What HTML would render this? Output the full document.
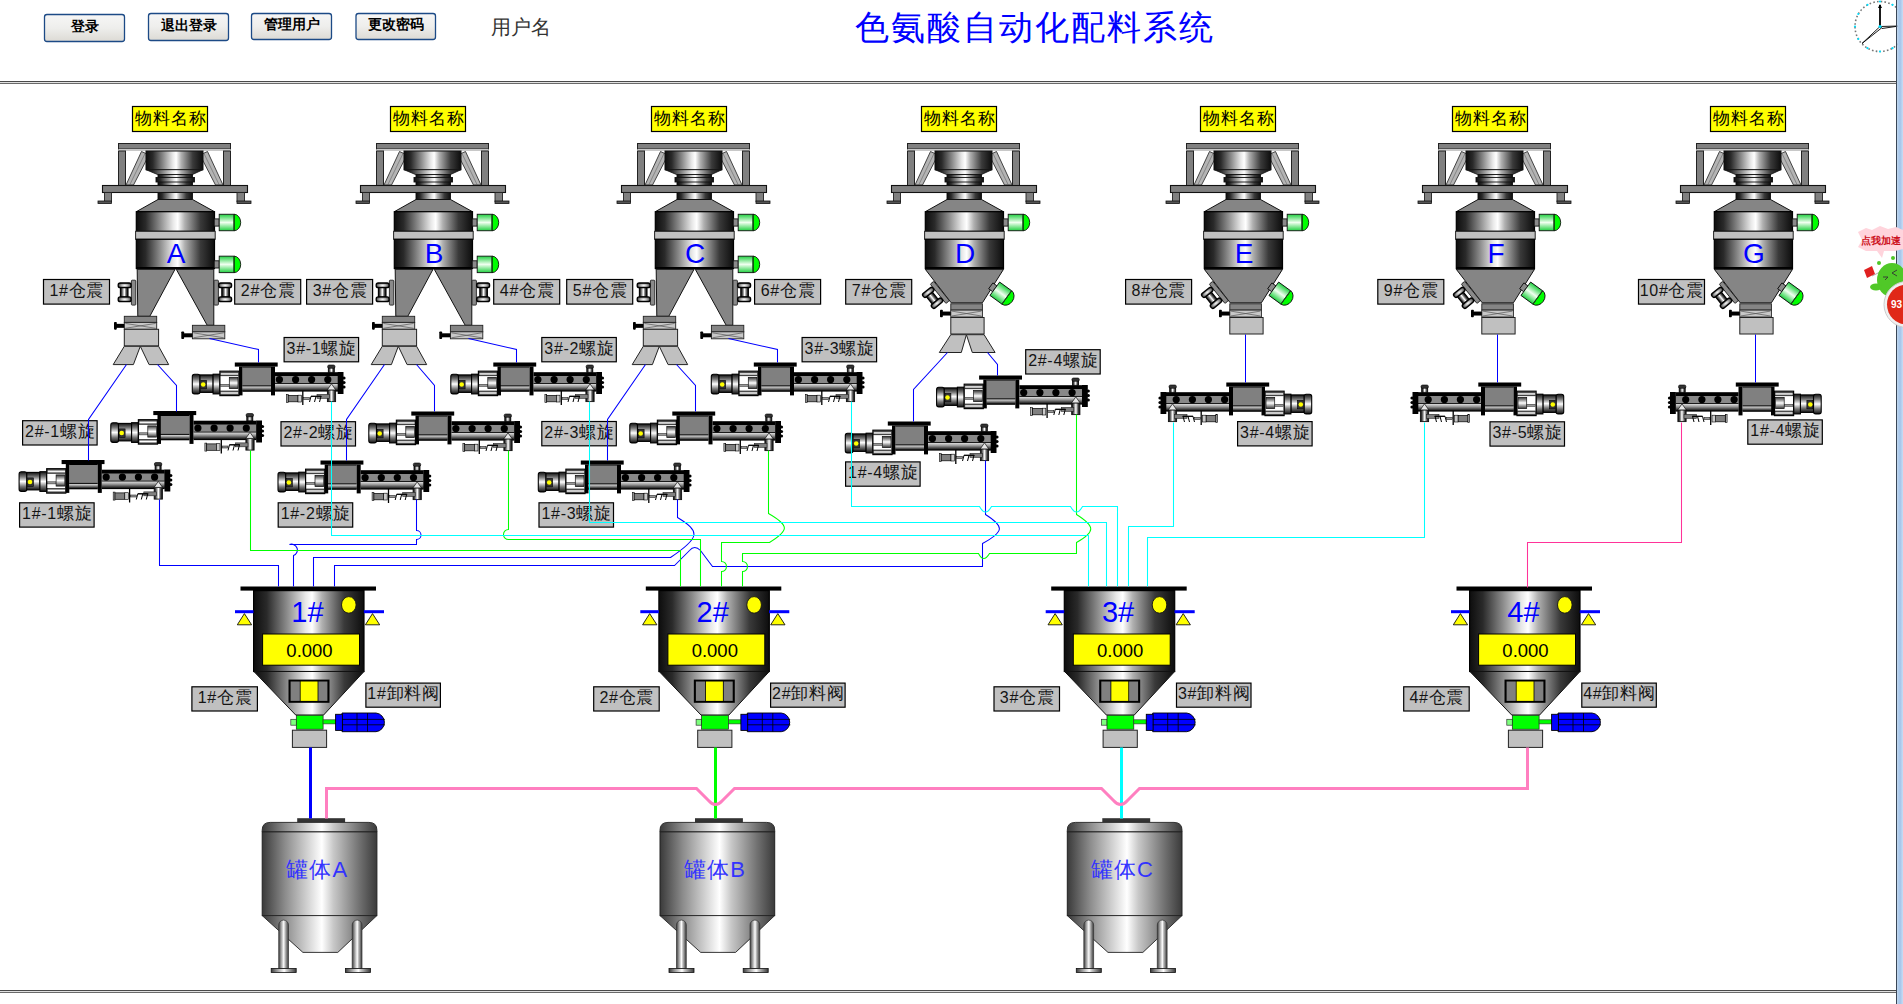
<!DOCTYPE html><html><head><meta charset="utf-8"><style>
html,body{margin:0;padding:0;background:#fff;width:1903px;height:1004px;overflow:hidden}
svg{position:absolute;left:0;top:0;font-family:"Liberation Sans", sans-serif}
</style></head><body>
<svg width="1903" height="1004" viewBox="0 0 1903 1004">
<defs>
<linearGradient id="met" x1="0" x2="1" y1="0" y2="0">
 <stop offset="0" stop-color="#0d0d0d"/><stop offset="0.12" stop-color="#2a2a2a"/>
 <stop offset="0.3" stop-color="#8a8a8a"/><stop offset="0.47" stop-color="#e8e8e8"/>
 <stop offset="0.53" stop-color="#ffffff"/><stop offset="0.62" stop-color="#b0b0b0"/>
 <stop offset="0.82" stop-color="#3a3a3a"/><stop offset="1" stop-color="#0d0d0d"/>
</linearGradient>
<linearGradient id="metL" x1="0" x2="1" y1="0" y2="0">
 <stop offset="0" stop-color="#3a3a3a"/><stop offset="0.2" stop-color="#8c8c8c"/>
 <stop offset="0.45" stop-color="#e6e6e6"/><stop offset="0.52" stop-color="#ffffff"/>
 <stop offset="0.62" stop-color="#c8c8c8"/><stop offset="0.85" stop-color="#707070"/>
 <stop offset="1" stop-color="#3a3a3a"/>
</linearGradient>
<linearGradient id="metV" x1="0" x2="0" y1="0" y2="1">
 <stop offset="0" stop-color="#111"/><stop offset="0.25" stop-color="#777"/>
 <stop offset="0.5" stop-color="#fff"/><stop offset="0.75" stop-color="#777"/>
 <stop offset="1" stop-color="#111"/>
</linearGradient>
<linearGradient id="metV2" x1="0" x2="0" y1="0" y2="1">
 <stop offset="0" stop-color="#333"/><stop offset="0.5" stop-color="#fff"/>
 <stop offset="1" stop-color="#333"/>
</linearGradient>
<radialGradient id="rad" cx="0.5" cy="0.5" r="0.6">
 <stop offset="0" stop-color="#fff"/><stop offset="0.45" stop-color="#aaa"/><stop offset="1" stop-color="#1a1a1a"/>
</radialGradient>
<linearGradient id="greenV" x1="0" x2="0" y1="0" y2="1">
 <stop offset="0" stop-color="#20d040"/><stop offset="0.5" stop-color="#f0fff0"/>
 <stop offset="1" stop-color="#20d040"/>
</linearGradient>
<linearGradient id="tubeV" x1="0" x2="0" y1="0" y2="1">
 <stop offset="0" stop-color="#ddd"/><stop offset="0.4" stop-color="#999"/>
 <stop offset="1" stop-color="#111"/>
</linearGradient>
<g id="ind">
 <rect x="-0.3" y="-3.6" width="5" height="7.2" fill="#8a8a8a" stroke="#111" stroke-width="0.9"/>
 <path d="M19.5,-8.25 A6.7,8.25 0 0 1 19.5,8.25 Z" fill="#00ff00" stroke="#111" stroke-width="0.9"/>
 <rect x="4.7" y="-8.25" width="14.8" height="16.5" fill="url(#greenV)" stroke="#111" stroke-width="0.9"/>
	<line x1="19.3" y1="-8" x2="19.3" y2="8" stroke="#1a5a1a" stroke-width="0.8"/>
</g><g id="vib">
 <rect x="-4.4" y="-12.4" width="4.4" height="24.9" rx="0.8" fill="#8a8a8a" stroke="#222" stroke-width="0.9"/>
 <rect x="-6" y="-8.6" width="2" height="2.6" fill="#555"/>
 <rect x="-6" y="5.4" width="2" height="2.6" fill="#555"/>
 <rect x="-15.4" y="-5.2" width="7.6" height="9.6" fill="url(#met)" stroke="#000" stroke-width="1.1"/>
 <rect x="-17.6" y="-9.6" width="12.9" height="4.7" rx="2" fill="url(#rad)" stroke="#000" stroke-width="1.3"/>
 <rect x="-17.6" y="4.3" width="12.9" height="4.8" rx="2" fill="url(#rad)" stroke="#000" stroke-width="1.3"/>
</g><g id="htop"><rect x="132.50" y="106.50" width="75.00" height="25.00" fill="#ffff00" stroke="#000" stroke-width="1.2" /><text x="170.5" y="123.6" font-size="16.5" text-anchor="middle" fill="#000" letter-spacing="1">物料名称</text><rect x="118.50" y="143.50" width="112.00" height="5.50" fill="#808080" stroke="#222" stroke-width="1" /><rect x="119.00" y="149.00" width="111.00" height="2.00" fill="#c8c8c8" /><rect x="118.50" y="151.00" width="7.00" height="34.50" fill="#808080" stroke="#222" stroke-width="1" /><rect x="223.50" y="151.00" width="7.00" height="34.50" fill="#808080" stroke="#222" stroke-width="1" /><polygon points="126.00,185.00 133.50,185.00 149.00,155.00 141.50,151.50" fill="#b4b4b4" stroke="#333" stroke-width="0.9" /><line x1="129.7" y1="185" x2="145.2" y2="153.2" stroke="#666" stroke-width="0.6"/><polygon points="223.00,185.00 215.50,185.00 200.00,155.00 207.50,151.50" fill="#b4b4b4" stroke="#333" stroke-width="0.9" /><line x1="219.3" y1="185" x2="203.8" y2="153.2" stroke="#666" stroke-width="0.6"/><rect x="146.00" y="151.00" width="57.00" height="18.70" fill="url(#met)" stroke="#111" stroke-width="1" /><polygon points="146.00,169.70 203.00,169.70 192.50,174.50 157.50,174.50" fill="url(#met)" stroke="#111" stroke-width="0.8" /><rect x="158.00" y="174.50" width="34.50" height="11.00" fill="url(#met)" stroke="#111" stroke-width="0.9" /><rect x="156.00" y="177.50" width="38.50" height="4.50" fill="url(#met)" stroke="#111" stroke-width="0.9" /><rect x="102.50" y="185.50" width="145.00" height="7.00" fill="#808080" stroke="#111" stroke-width="1.1" /><rect x="104.50" y="192.50" width="7.00" height="9.00" fill="#808080" stroke="#222" stroke-width="0.9" /><rect x="98.00" y="201.00" width="13.50" height="2.50" fill="#555" stroke="#111" stroke-width="0.8" /><rect x="237.00" y="192.50" width="7.50" height="9.00" fill="#808080" stroke="#222" stroke-width="0.9" /><rect x="237.00" y="201.00" width="14.00" height="2.50" fill="#555" stroke="#111" stroke-width="0.8" /><rect x="158.00" y="192.50" width="34.50" height="7.00" fill="url(#met)" stroke="#111" stroke-width="0.9" /><polygon points="158.00,199.50 192.50,199.50 214.50,211.70 136.30,211.70" fill="#858585" stroke="#111" stroke-width="1" /><rect x="136.30" y="211.70" width="78.20" height="19.60" fill="url(#met)" stroke="#000" stroke-width="1.2" /><rect x="135.60" y="231.30" width="79.60" height="8.00" fill="#c0c0c0" stroke="#222" stroke-width="1" /><rect x="136.30" y="239.30" width="78.20" height="29.20" fill="url(#met)" stroke="#000" stroke-width="1.2" /><rect x="136.30" y="267.00" width="78.20" height="2.30" fill="#000" /><use href="#ind" transform="translate(214.5,222.5)"/></g><g id="hlow1"><use href="#ind" transform="translate(214.5,264.4)"/><polygon points="137.20,269.30 175.00,269.30 149.80,316.30 137.80,316.30" fill="#858585" stroke="#111" stroke-width="1" /><polygon points="176.30,269.30 213.80,269.30 213.80,325.30 207.20,325.30" fill="#858585" stroke="#111" stroke-width="1" /><use href="#vib" transform="translate(135.8,292.6)"/><use href="#vib" transform="translate(214,292.6) scale(-1,1)"/><rect x="124.30" y="316.30" width="32.40" height="6.10" fill="#858585" stroke="#222" stroke-width="0.9" /><rect x="124.30" y="322.40" width="32.40" height="6.90" fill="#c8c8c8" stroke="#222" stroke-width="0.9" /><path d="M125.3,323.4 L155.7,328.3 M125.3,328.3 L155.7,323.4" stroke="#555" stroke-width="0.7" fill="none"/><rect x="116.00" y="323.85" width="8.30" height="4.00" fill="#000" /><rect x="114.00" y="322.05" width="2.80" height="7.60" fill="#000" rx="0.8"/><rect x="124.30" y="329.30" width="34.30" height="16.60" fill="#c0c0c0" stroke="#222" stroke-width="1" /><polygon points="124.30,346.30 140.30,346.30 133.40,364.60 113.20,364.60" fill="#c0c0c0" stroke="#222" stroke-width="1" /><polygon points="140.30,346.30 158.60,346.30 168.70,364.60 149.10,364.60" fill="#c0c0c0" stroke="#222" stroke-width="1" /><rect x="192.40" y="325.30" width="32.40" height="6.50" fill="#858585" stroke="#222" stroke-width="0.9" /><rect x="192.40" y="331.80" width="32.40" height="7.00" fill="#c8c8c8" stroke="#222" stroke-width="0.9" /><path d="M193.4,332.8 L223.8,337.8 M193.4,337.8 L223.8,332.8" stroke="#555" stroke-width="0.7" fill="none"/><rect x="183.30" y="333.30" width="9.10" height="4.00" fill="#000" /><rect x="181.30" y="331.50" width="2.80" height="7.60" fill="#000" rx="0.8"/></g><g id="hlow2"><polygon points="136.30,269.30 214.50,269.30 193.40,302.80 162.20,302.80" fill="#858585" stroke="#111" stroke-width="1" /><use href="#vib" transform="translate(152.5,291) rotate(-39)"/><use href="#ind" transform="translate(202,286) rotate(36)"/><rect x="161.80" y="303.80" width="31.60" height="6.30" fill="#858585" stroke="#222" stroke-width="0.9" /><rect x="161.80" y="310.10" width="31.60" height="6.90" fill="#c8c8c8" stroke="#222" stroke-width="0.9" /><path d="M162.8,311.1 L192.4,316 M162.8,316 L192.4,311.1" stroke="#555" stroke-width="0.7" fill="none"/><rect x="153.00" y="311.55" width="8.80" height="4.00" fill="#000" /><rect x="151.00" y="309.75" width="2.80" height="7.60" fill="#000" rx="0.8"/><rect x="161.80" y="317.50" width="33.30" height="16.50" fill="#c0c0c0" stroke="#222" stroke-width="1" /></g><g id="chute2"><polygon points="161.80,334.70 177.40,334.70 172.30,352.50 150.30,352.50" fill="#c0c0c0" stroke="#222" stroke-width="1" /><polygon points="177.40,334.70 195.10,334.70 206.10,352.50 183.30,352.50" fill="#c0c0c0" stroke="#222" stroke-width="1" /></g><g id="conv"><rect x="0.30" y="12.20" width="7.70" height="19.70" fill="url(#metV)" stroke="#000" stroke-width="1.1" rx="2.2"/><rect x="8.00" y="12.90" width="13.10" height="17.50" fill="url(#metV)" stroke="#000" stroke-width="1.1" /><rect x="8.80" y="18.40" width="5.80" height="8.50" fill="#333" stroke="#000" stroke-width="0.6" /><circle cx="11.2" cy="22.5" r="2.3" fill="#ffff00"/><rect x="21.10" y="12.20" width="6.80" height="19.70" fill="url(#metV)" stroke="#000" stroke-width="1.1" /><rect x="27.90" y="9.20" width="19.10" height="24.40" fill="#ffffff" stroke="#000" stroke-width="1.2" /><rect x="28.50" y="10.00" width="18.00" height="3.80" fill="url(#metV2)" stroke="#111" stroke-width="0.6" /><rect x="28.50" y="29.00" width="18.00" height="4.00" fill="url(#metV2)" stroke="#111" stroke-width="0.6" /><rect x="28.50" y="22.30" width="8.80" height="2.10" fill="#999" stroke="#222" stroke-width="0.5" /><rect x="37.30" y="15.40" width="8.70" height="11.20" fill="url(#metV2)" stroke="#111" stroke-width="0.7" /><rect x="42.80" y="0.50" width="42.90" height="4.10" fill="#000" /><rect x="47.00" y="4.50" width="3.50" height="28.90" fill="#000" /><rect x="79.00" y="4.50" width="4.00" height="28.90" fill="#000" /><rect x="50.30" y="4.50" width="28.70" height="25.30" fill="#000" /><rect x="50.30" y="5.50" width="28.70" height="17.90" fill="#808080" /><rect x="50.30" y="24.40" width="28.70" height="4.40" fill="url(#tubeV)" /><rect x="83.00" y="10.20" width="63.00" height="19.40" fill="#000" /><rect x="83.00" y="14.00" width="63.00" height="7.20" fill="#888" /><circle cx="87.4" cy="17.6" r="3.6" fill="#000"/><circle cx="103.6" cy="17.6" r="3.6" fill="#000"/><circle cx="119.6" cy="17.6" r="3.6" fill="#000"/><circle cx="135.8" cy="17.6" r="3.6" fill="#000"/><rect x="83.00" y="22.00" width="63.00" height="6.60" fill="url(#tubeV)" /><rect x="145.70" y="10.00" width="5.80" height="22.00" fill="#000" /><circle cx="152" cy="16" r="1.6" fill="#000"/><circle cx="152" cy="20.5" r="1.6" fill="#000"/><circle cx="152" cy="25" r="1.6" fill="#000"/><rect x="136.30" y="5.50" width="6.00" height="4.80" fill="url(#met)" stroke="#000" stroke-width="0.8" /><rect x="135.60" y="3.00" width="7.40" height="3.30" fill="#333" stroke="#000" stroke-width="0.6" rx="1.5"/><rect x="135.40" y="27.90" width="8.20" height="11.70" fill="url(#met)" stroke="#111" stroke-width="0.9" /><polygon points="139.50,21.80 135.30,27.90 143.70,27.90" fill="#e6e6e6" stroke="#111" stroke-width="0.7" /><rect x="125.00" y="32.40" width="12.50" height="3.90" fill="#808080" stroke="#222" stroke-width="0.6" /><rect x="94.40" y="32.60" width="1.80" height="8.00" fill="#bbb" stroke="#000" stroke-width="0.6" /><rect x="96.20" y="33.40" width="9.80" height="6.40" fill="#808080" stroke="#000" stroke-width="0.7" /><rect x="106.00" y="33.20" width="3.50" height="6.80" fill="#ccc" stroke="#000" stroke-width="0.6" /><line x1="110.8" y1="28.9" x2="110.8" y2="43" stroke="#000" stroke-width="1.3"/><rect x="111.50" y="35.50" width="6.00" height="2.00" fill="#999" stroke="#000" stroke-width="0.5" /><path d="M117.5,40 L119,34.3 L124,34.3 L122.5,40 M124,34.3 L129,34.3 L127.5,40 M119,34.3 L129.5,34.3" stroke="#000" stroke-width="1" fill="none"/></g><g id="wtank"><rect x="240.50" y="586.50" width="135.50" height="4.10" fill="#000" /><rect x="253.60" y="590.60" width="110.40" height="80.90" fill="url(#met)" stroke="#000" stroke-width="1.2" /><rect x="254.00" y="664.50" width="109.60" height="6.00" fill="url(#met)" /><rect x="262.60" y="634.00" width="96.90" height="31.20" fill="#ffff00" stroke="#000" stroke-width="1" /><text x="309.5" y="656.6" font-size="18.5" text-anchor="middle" fill="#000">0.000</text><ellipse cx="348.8" cy="604.9" rx="7.3" ry="8.3" fill="#ffff00" stroke="#111" stroke-width="0.9"/><rect x="235.00" y="610.20" width="18.50" height="3.00" fill="#0000ff" /><rect x="363.80" y="610.20" width="20.20" height="3.00" fill="#0000ff" /><polygon points="244.40,613.60 237.30,624.80 251.60,624.80" fill="#ffff00" stroke="#111" stroke-width="0.9" /><polygon points="372.50,613.60 365.40,624.80 379.70,624.80" fill="#ffff00" stroke="#111" stroke-width="0.9" /><polygon points="253.90,671.50 364.00,671.50 323.60,715.00 295.70,715.00" fill="url(#met)" stroke="#111" stroke-width="1" /><rect x="288.50" y="679.60" width="41.00" height="23.20" fill="#000" /><rect x="290.60" y="681.50" width="9.20" height="19.40" fill="#808080" /><rect x="318.40" y="681.50" width="9.00" height="19.40" fill="#808080" /><rect x="300.60" y="681.50" width="17.00" height="19.40" fill="#ffff00" /><rect x="290.80" y="719.30" width="5.60" height="5.90" fill="#7dff7d" stroke="#333" stroke-width="0.7" /><rect x="296.30" y="715.30" width="26.80" height="13.90" fill="#00ff00" stroke="#222" stroke-width="0.7" /><rect x="323.10" y="719.80" width="12.90" height="4.10" fill="#00ff00" stroke="#333" stroke-width="0.6" /><path d="M342,713 H376 A9.4,9.4 0 0 1 376,731.7 H342 Z" fill="#0000ff" stroke="#000" stroke-width="0.9"/><rect x="335.60" y="714.30" width="6.80" height="16.10" fill="#0000ff" stroke="#000" stroke-width="0.9" /><path d="M357,713 V731.7 M367.5,713 V731.7 M342,719.4 H384.8 M342,724.8 H385" stroke="#000" stroke-width="0.8" fill="none"/><rect x="292.40" y="730.20" width="34.20" height="17.20" fill="#c0c0c0" stroke="#222" stroke-width="1" /></g><g id="stank"><rect x="297.20" y="818.20" width="47.90" height="4.40" fill="#333" /><path d="M262.2,831.9 V830 Q262.2,822.4 270.2,822.4 H368.9 Q376.9,822.4 376.9,830 V831.9 Z" fill="url(#metL)" stroke="#222" stroke-width="0.9"/><rect x="262.20" y="831.90" width="114.70" height="83.70" fill="url(#metL)" stroke="#222" stroke-width="1" /><polygon points="262.20,915.60 376.90,915.60 337.80,952.40 302.90,952.40" fill="url(#metL)" stroke="#222" stroke-width="0.9" /><path d="M278.7,968.5 V925 A4.9,4.9 0 0 1 288.5,925 V968.5 Z" fill="url(#metL)" stroke="#333" stroke-width="0.7"/><rect x="271.20" y="968.50" width="25.00" height="4.00" fill="url(#metL)" stroke="#111" stroke-width="0.8" /><path d="M352.2,968.5 V925 A4.9,4.9 0 0 1 362.0,925 V968.5 Z" fill="url(#metL)" stroke="#333" stroke-width="0.7"/><rect x="345.40" y="968.50" width="25.00" height="4.00" fill="url(#metL)" stroke="#111" stroke-width="0.8" /></g>
<linearGradient id="btn" x1="0" x2="0" y1="0" y2="1">
 <stop offset="0" stop-color="#f6f6f6"/><stop offset="0.5" stop-color="#eeeeec"/>
 <stop offset="1" stop-color="#dcdad4"/>
</linearGradient>
<linearGradient id="winb" x1="0" x2="1" y1="0" y2="0">
 <stop offset="0" stop-color="#b8d4f0"/><stop offset="0.5" stop-color="#a4c4ea"/><stop offset="1" stop-color="#c8dcf4"/>
</linearGradient>
</defs>
<rect x="44.5" y="14.5" width="80" height="27" rx="2.5" fill="url(#btn)" stroke="#1c4a86" stroke-width="1.3"/>
<text x="84.5" y="30.6" font-size="14" font-weight="bold" text-anchor="middle" fill="#000">登录</text>
<rect x="148.5" y="13.5" width="80" height="27" rx="2.5" fill="url(#btn)" stroke="#1c4a86" stroke-width="1.3"/>
<text x="188.5" y="29.6" font-size="14" font-weight="bold" text-anchor="middle" fill="#000">退出登录</text>
<rect x="251.5" y="13.5" width="80" height="26" rx="2.5" fill="url(#btn)" stroke="#1c4a86" stroke-width="1.3"/>
<text x="291.5" y="29.1" font-size="14" font-weight="bold" text-anchor="middle" fill="#000">管理用户</text>
<rect x="356.0" y="13.5" width="79.5" height="26" rx="2.5" fill="url(#btn)" stroke="#1c4a86" stroke-width="1.3"/>
<text x="395.8" y="29.1" font-size="14" font-weight="bold" text-anchor="middle" fill="#000">更改密码</text>
<text x="491" y="33.5" font-size="20" fill="#333">用户名</text>
<text x="1034.5" y="38.8" font-size="33.5" text-anchor="middle" fill="#0000ff" letter-spacing="2">色氨酸自动化配料系统</text>
<rect x="0.00" y="81.00" width="1896.00" height="1.00" fill="#4a4a4a" />
<rect x="0.00" y="82.00" width="1896.00" height="1.00" fill="#e0e0e0" />
<rect x="0.00" y="83.00" width="1896.00" height="1.00" fill="#6a6a6a" />
<rect x="0.00" y="990.00" width="1896.00" height="1.00" fill="#4a4a4a" />
<rect x="0.00" y="991.00" width="1896.00" height="1.00" fill="#e0e0e0" />
<rect x="0.00" y="992.00" width="1896.00" height="1.00" fill="#6a6a6a" />
<circle cx="1880" cy="26.5" r="25" fill="none" stroke="#777" stroke-width="1.6" stroke-dasharray="1.6 2.2"/>
<circle cx="1880.0" cy="1.5" r="1.1" fill="#00e0ff"/>
<circle cx="1892.5" cy="4.8" r="1.1" fill="#00e0ff"/>
<circle cx="1901.7" cy="14.0" r="1.1" fill="#00e0ff"/>
<circle cx="1905.0" cy="26.5" r="1.1" fill="#00e0ff"/>
<circle cx="1901.7" cy="39.0" r="1.1" fill="#00e0ff"/>
<circle cx="1892.5" cy="48.2" r="1.1" fill="#00e0ff"/>
<circle cx="1880.0" cy="51.5" r="1.1" fill="#00e0ff"/>
<circle cx="1867.5" cy="48.2" r="1.1" fill="#00e0ff"/>
<circle cx="1858.3" cy="39.0" r="1.1" fill="#00e0ff"/>
<circle cx="1855.0" cy="26.5" r="1.1" fill="#00e0ff"/>
<circle cx="1858.3" cy="14.0" r="1.1" fill="#00e0ff"/>
<circle cx="1867.5" cy="4.8" r="1.1" fill="#00e0ff"/>
<path d="M1880,26.5 V5" stroke="#000" stroke-width="1.8"/><path d="M1878,8 L1880,4 L1882,8 Z" fill="#000"/>
<path d="M1880,26.5 L1862,43.5 L1881.5,28 Z" fill="none" stroke="#000" stroke-width="0.9"/>
<path d="M1880,26.5 L1899,26 L1882,28.5 Z" fill="none" stroke="#000" stroke-width="0.9"/>
<circle cx="1880" cy="26.5" r="1.6" fill="#00e0ff"/>
<use href="#htop" transform="translate(0,0)"/>
<use href="#hlow1" transform="translate(0,0)"/>
<text x="176" y="263" font-size="28" text-anchor="middle" fill="#0000ff">A</text>
<use href="#htop" transform="translate(258,0)"/>
<use href="#hlow1" transform="translate(258,0)"/>
<text x="434" y="263" font-size="28" text-anchor="middle" fill="#0000ff">B</text>
<use href="#htop" transform="translate(519,0)"/>
<use href="#hlow1" transform="translate(519,0)"/>
<text x="695" y="263" font-size="28" text-anchor="middle" fill="#0000ff">C</text>
<use href="#htop" transform="translate(789,0)"/>
<use href="#hlow2" transform="translate(789,0)"/>
<use href="#chute2" transform="translate(789,0)"/>
<text x="965" y="263" font-size="28" text-anchor="middle" fill="#0000ff">D</text>
<use href="#htop" transform="translate(1068,0)"/>
<use href="#hlow2" transform="translate(1068,0)"/>
<text x="1244" y="263" font-size="28" text-anchor="middle" fill="#0000ff">E</text>
<use href="#htop" transform="translate(1320,0)"/>
<use href="#hlow2" transform="translate(1320,0)"/>
<text x="1496" y="263" font-size="28" text-anchor="middle" fill="#0000ff">F</text>
<use href="#htop" transform="translate(1578,0)"/>
<use href="#hlow2" transform="translate(1578,0)"/>
<text x="1754" y="263" font-size="28" text-anchor="middle" fill="#0000ff">G</text>
<rect x="43.50" y="279.50" width="66.00" height="24.60" fill="#c0c0c0" stroke="#000" stroke-width="1.2" /><text x="76.8" y="296.0" text-anchor="middle" fill="#141414" letter-spacing="0.7"><tspan font-size="16">1#</tspan><tspan font-size="17">仓震</tspan></text>
<rect x="234.70" y="279.50" width="66.00" height="24.60" fill="#c0c0c0" stroke="#000" stroke-width="1.2" /><text x="268.1" y="296.0" text-anchor="middle" fill="#141414" letter-spacing="0.7"><tspan font-size="16">2#</tspan><tspan font-size="17">仓震</tspan></text>
<rect x="306.60" y="279.50" width="66.00" height="24.60" fill="#c0c0c0" stroke="#000" stroke-width="1.2" /><text x="340.0" y="296.0" text-anchor="middle" fill="#141414" letter-spacing="0.7"><tspan font-size="16">3#</tspan><tspan font-size="17">仓震</tspan></text>
<rect x="493.70" y="279.50" width="66.00" height="24.60" fill="#c0c0c0" stroke="#000" stroke-width="1.2" /><text x="527.1" y="296.0" text-anchor="middle" fill="#141414" letter-spacing="0.7"><tspan font-size="16">4#</tspan><tspan font-size="17">仓震</tspan></text>
<rect x="566.70" y="279.50" width="66.00" height="24.60" fill="#c0c0c0" stroke="#000" stroke-width="1.2" /><text x="600.1" y="296.0" text-anchor="middle" fill="#141414" letter-spacing="0.7"><tspan font-size="16">5#</tspan><tspan font-size="17">仓震</tspan></text>
<rect x="754.60" y="279.50" width="66.00" height="24.60" fill="#c0c0c0" stroke="#000" stroke-width="1.2" /><text x="788.0" y="296.0" text-anchor="middle" fill="#141414" letter-spacing="0.7"><tspan font-size="16">6#</tspan><tspan font-size="17">仓震</tspan></text>
<rect x="845.70" y="279.50" width="66.00" height="24.60" fill="#c0c0c0" stroke="#000" stroke-width="1.2" /><text x="879.1" y="296.0" text-anchor="middle" fill="#141414" letter-spacing="0.7"><tspan font-size="16">7#</tspan><tspan font-size="17">仓震</tspan></text>
<rect x="1125.60" y="279.50" width="66.00" height="24.60" fill="#c0c0c0" stroke="#000" stroke-width="1.2" /><text x="1158.9" y="296.0" text-anchor="middle" fill="#141414" letter-spacing="0.7"><tspan font-size="16">8#</tspan><tspan font-size="17">仓震</tspan></text>
<rect x="1377.80" y="279.50" width="66.00" height="24.60" fill="#c0c0c0" stroke="#000" stroke-width="1.2" /><text x="1411.1" y="296.0" text-anchor="middle" fill="#141414" letter-spacing="0.7"><tspan font-size="16">9#</tspan><tspan font-size="17">仓震</tspan></text>
<rect x="1638.50" y="279.50" width="66.00" height="24.60" fill="#c0c0c0" stroke="#000" stroke-width="1.2" /><text x="1671.8" y="296.0" text-anchor="middle" fill="#141414" letter-spacing="0.7"><tspan font-size="16">10#</tspan><tspan font-size="17">仓震</tspan></text>
<use href="#conv" transform="translate(192,362)"/>
<use href="#conv" transform="translate(110.5,410.5)"/>
<use href="#conv" transform="translate(18.8,459.5)"/>
<use href="#conv" transform="translate(450.5,362)"/>
<use href="#conv" transform="translate(368.5,411)"/>
<use href="#conv" transform="translate(277.7,460)"/>
<use href="#conv" transform="translate(711,362)"/>
<use href="#conv" transform="translate(629.5,411)"/>
<use href="#conv" transform="translate(538,460)"/>
<use href="#conv" transform="translate(936.3,375)"/>
<use href="#conv" transform="translate(845,421)"/>
<use href="#conv" transform="translate(1312,382) scale(-1,1)"/>
<use href="#conv" transform="translate(1564,382) scale(-1,1)"/>
<use href="#conv" transform="translate(1821.5,382) scale(-1,1)"/>
<rect x="284.10" y="337.50" width="74.50" height="24.30" fill="#c0c0c0" stroke="#000" stroke-width="1.2" /><text x="321.7" y="353.8" text-anchor="middle" fill="#141414" letter-spacing="0.7"><tspan font-size="16">3#-1</tspan><tspan font-size="17">螺旋</tspan></text>
<rect x="22.60" y="420.70" width="74.50" height="24.30" fill="#c0c0c0" stroke="#000" stroke-width="1.2" /><text x="60.2" y="437.0" text-anchor="middle" fill="#141414" letter-spacing="0.7"><tspan font-size="16">2#-1</tspan><tspan font-size="17">螺旋</tspan></text>
<rect x="19.60" y="502.80" width="74.50" height="24.30" fill="#c0c0c0" stroke="#000" stroke-width="1.2" /><text x="57.2" y="519.1" text-anchor="middle" fill="#141414" letter-spacing="0.7"><tspan font-size="16">1#-1</tspan><tspan font-size="17">螺旋</tspan></text>
<rect x="541.80" y="337.50" width="74.50" height="24.30" fill="#c0c0c0" stroke="#000" stroke-width="1.2" /><text x="579.4" y="353.8" text-anchor="middle" fill="#141414" letter-spacing="0.7"><tspan font-size="16">3#-2</tspan><tspan font-size="17">螺旋</tspan></text>
<rect x="281.00" y="421.70" width="74.50" height="24.30" fill="#c0c0c0" stroke="#000" stroke-width="1.2" /><text x="318.6" y="438.0" text-anchor="middle" fill="#141414" letter-spacing="0.7"><tspan font-size="16">2#-2</tspan><tspan font-size="17">螺旋</tspan></text>
<rect x="278.20" y="502.80" width="74.50" height="24.30" fill="#c0c0c0" stroke="#000" stroke-width="1.2" /><text x="315.8" y="519.1" text-anchor="middle" fill="#141414" letter-spacing="0.7"><tspan font-size="16">1#-2</tspan><tspan font-size="17">螺旋</tspan></text>
<rect x="802.10" y="337.50" width="74.50" height="24.30" fill="#c0c0c0" stroke="#000" stroke-width="1.2" /><text x="839.7" y="353.8" text-anchor="middle" fill="#141414" letter-spacing="0.7"><tspan font-size="16">3#-3</tspan><tspan font-size="17">螺旋</tspan></text>
<rect x="541.80" y="421.50" width="74.50" height="24.30" fill="#c0c0c0" stroke="#000" stroke-width="1.2" /><text x="579.4" y="437.8" text-anchor="middle" fill="#141414" letter-spacing="0.7"><tspan font-size="16">2#-3</tspan><tspan font-size="17">螺旋</tspan></text>
<rect x="539.00" y="502.80" width="74.50" height="24.30" fill="#c0c0c0" stroke="#000" stroke-width="1.2" /><text x="576.6" y="519.1" text-anchor="middle" fill="#141414" letter-spacing="0.7"><tspan font-size="16">1#-3</tspan><tspan font-size="17">螺旋</tspan></text>
<rect x="1025.70" y="349.70" width="74.50" height="24.30" fill="#c0c0c0" stroke="#000" stroke-width="1.2" /><text x="1063.3" y="366.0" text-anchor="middle" fill="#141414" letter-spacing="0.7"><tspan font-size="16">2#-4</tspan><tspan font-size="17">螺旋</tspan></text>
<rect x="845.60" y="461.90" width="74.50" height="24.30" fill="#c0c0c0" stroke="#000" stroke-width="1.2" /><text x="883.2" y="478.2" text-anchor="middle" fill="#141414" letter-spacing="0.7"><tspan font-size="16">1#-4</tspan><tspan font-size="17">螺旋</tspan></text>
<rect x="1237.60" y="421.60" width="74.50" height="24.30" fill="#c0c0c0" stroke="#000" stroke-width="1.2" /><text x="1275.2" y="437.9" text-anchor="middle" fill="#141414" letter-spacing="0.7"><tspan font-size="16">3#-4</tspan><tspan font-size="17">螺旋</tspan></text>
<rect x="1490.00" y="421.80" width="74.50" height="24.30" fill="#c0c0c0" stroke="#000" stroke-width="1.2" /><text x="1527.6" y="438.1" text-anchor="middle" fill="#141414" letter-spacing="0.7"><tspan font-size="16">3#-5</tspan><tspan font-size="17">螺旋</tspan></text>
<rect x="1747.80" y="419.90" width="74.50" height="24.30" fill="#c0c0c0" stroke="#000" stroke-width="1.2" /><text x="1785.4" y="436.2" text-anchor="middle" fill="#141414" letter-spacing="0.7"><tspan font-size="16">1#-4</tspan><tspan font-size="17">螺旋</tspan></text>
<use href="#wtank" transform="translate(0,0)"/>
<text x="307.4" y="621.8" font-size="29" text-anchor="middle" fill="#0000ff">1#</text>
<use href="#wtank" transform="translate(405.3,0)"/>
<text x="712.7" y="621.8" font-size="29" text-anchor="middle" fill="#0000ff">2#</text>
<use href="#wtank" transform="translate(810.7,0)"/>
<text x="1118.1" y="621.8" font-size="29" text-anchor="middle" fill="#0000ff">3#</text>
<use href="#wtank" transform="translate(1216,0)"/>
<text x="1523.4" y="621.8" font-size="29" text-anchor="middle" fill="#0000ff">4#</text>
<rect x="191.90" y="686.80" width="65.50" height="24.20" fill="#c0c0c0" stroke="#000" stroke-width="1.2" /><text x="225.0" y="703.1" text-anchor="middle" fill="#141414" letter-spacing="0.7"><tspan font-size="16">1#</tspan><tspan font-size="17">仓震</tspan></text>
<rect x="593.70" y="686.80" width="65.50" height="24.20" fill="#c0c0c0" stroke="#000" stroke-width="1.2" /><text x="626.8" y="703.1" text-anchor="middle" fill="#141414" letter-spacing="0.7"><tspan font-size="16">2#</tspan><tspan font-size="17">仓震</tspan></text>
<rect x="994.00" y="686.80" width="65.50" height="24.20" fill="#c0c0c0" stroke="#000" stroke-width="1.2" /><text x="1027.1" y="703.1" text-anchor="middle" fill="#141414" letter-spacing="0.7"><tspan font-size="16">3#</tspan><tspan font-size="17">仓震</tspan></text>
<rect x="1403.70" y="686.80" width="65.50" height="24.20" fill="#c0c0c0" stroke="#000" stroke-width="1.2" /><text x="1436.8" y="703.1" text-anchor="middle" fill="#141414" letter-spacing="0.7"><tspan font-size="16">4#</tspan><tspan font-size="17">仓震</tspan></text>
<rect x="365.90" y="683.10" width="74.50" height="24.10" fill="#c0c0c0" stroke="#000" stroke-width="1.2" /><text x="403.5" y="699.3" text-anchor="middle" fill="#141414" letter-spacing="0.7"><tspan font-size="16">1#</tspan><tspan font-size="17">卸料阀</tspan></text>
<rect x="770.60" y="683.10" width="74.50" height="24.10" fill="#c0c0c0" stroke="#000" stroke-width="1.2" /><text x="808.2" y="699.3" text-anchor="middle" fill="#141414" letter-spacing="0.7"><tspan font-size="16">2#</tspan><tspan font-size="17">卸料阀</tspan></text>
<rect x="1176.50" y="683.10" width="74.50" height="24.10" fill="#c0c0c0" stroke="#000" stroke-width="1.2" /><text x="1214.1" y="699.3" text-anchor="middle" fill="#141414" letter-spacing="0.7"><tspan font-size="16">3#</tspan><tspan font-size="17">卸料阀</tspan></text>
<rect x="1581.80" y="683.10" width="74.50" height="24.10" fill="#c0c0c0" stroke="#000" stroke-width="1.2" /><text x="1619.4" y="699.3" text-anchor="middle" fill="#141414" letter-spacing="0.7"><tspan font-size="16">4#</tspan><tspan font-size="17">卸料阀</tspan></text>
<use href="#stank" transform="translate(0,0)"/>
<text x="317.2" y="876.8" font-size="22" text-anchor="middle" fill="#3333ff" letter-spacing="1.2">罐体A</text>
<use href="#stank" transform="translate(397.8,0)"/>
<text x="715.0" y="876.8" font-size="22" text-anchor="middle" fill="#3333ff" letter-spacing="1.2">罐体B</text>
<use href="#stank" transform="translate(805.1,0)"/>
<text x="1122.3" y="876.8" font-size="22" text-anchor="middle" fill="#3333ff" letter-spacing="1.2">罐体C</text>
<path d="M126.5,364.5  L88.5,419.5  V460.5" fill="none" stroke="#0000ff" stroke-width="1.05"/>
<path d="M157.5,364.5  L176.5,385.5  V411.5" fill="none" stroke="#0000ff" stroke-width="1.05"/>
<path d="M209.5,338.5  L258.5,349.5  V362.5" fill="none" stroke="#0000ff" stroke-width="1.05"/>
<path d="M384.5,364.5  L346.5,419.5  V460.5" fill="none" stroke="#0000ff" stroke-width="1.05"/>
<path d="M416.5,364.5  L434.5,385.5  V411.5" fill="none" stroke="#0000ff" stroke-width="1.05"/>
<path d="M468.5,338.5  L516.5,349.5  V362.5" fill="none" stroke="#0000ff" stroke-width="1.05"/>
<path d="M645.5,364.5  L607.5,419.5  V460.5" fill="none" stroke="#0000ff" stroke-width="1.05"/>
<path d="M676.5,364.5  L695.5,385.5  V411.5" fill="none" stroke="#0000ff" stroke-width="1.05"/>
<path d="M728.5,338.5  L777.5,349.5  V362.5" fill="none" stroke="#0000ff" stroke-width="1.05"/>
<path d="M947.5,352.5  L913.5,389.5  V421.5" fill="none" stroke="#0000ff" stroke-width="1.05"/>
<path d="M987.5,352.5  L997.5,364.5  V375.5" fill="none" stroke="#0000ff" stroke-width="1.05"/>
<path d="M1245.5,334.5  V382.5" fill="none" stroke="#0000ff" stroke-width="1.05"/>
<path d="M1497.5,334.5  V382.5" fill="none" stroke="#0000ff" stroke-width="1.05"/>
<path d="M1755.5,334.5  V382.5" fill="none" stroke="#0000ff" stroke-width="1.05"/>
<path d="M159.5,499.5  V565.5  H278.5  V586.5" fill="none" stroke="#0000ff" stroke-width="1.05"/>
<path d="M416.5,499.5  V530.5  A4.4,4.4 0 0 1 416.5,539.5 V544.5  H289.5  A4.6,4.6 0 0 1 293.5,555.5 V586.5" fill="none" stroke="#0000ff" stroke-width="1.05"/>
<path d="M677.5,499.5  V517.5  C700.5,531.5 700.5,537.5 670.5,557.5  H313.5  V586.5" fill="none" stroke="#0000ff" stroke-width="1.05"/>
<path d="M985.5,460.5  V514.5  C1004.5,526.5 1004.5,531.5 982.5,543.5  V566.5  H712.5  L700.5,550.5  Q694.5,544.5 689.5,550.5  L674.5,565.5  H334.5  V586.5" fill="none" stroke="#0000ff" stroke-width="1.05"/>
<path d="M250.5,450.5  V550.5  H680.5  V586.5" fill="none" stroke="#00ff00" stroke-width="1.05"/>
<path d="M508.5,450.5  V529.5  A5,5 0 0 0 508.5,539.5 H700.5  V586.5" fill="none" stroke="#00ff00" stroke-width="1.05"/>
<path d="M768.5,450.5  V513.5  C789.5,525.5 789.5,530.5 769.5,542.5  H721.5  V561.5  A4.6,4.6 0 0 1 721.5,571.5 V586.5" fill="none" stroke="#00ff00" stroke-width="1.05"/>
<path d="M1076.5,414.5  V514.5  C1095.5,526.5 1095.5,531.5 1076.5,542.5  V553.5  H989.5  Q983.5,563.5 978.5,553.5  H742.5  V561.5  A4.6,4.6 0 0 1 742.5,571.5 V586.5" fill="none" stroke="#00ff00" stroke-width="1.05"/>
<path d="M331.5,401.5  V535.5  H1088.5  V586.5" fill="none" stroke="#00ffff" stroke-width="1.05"/>
<path d="M589.5,401.5  V522.5  H1106.5  V586.5" fill="none" stroke="#00ffff" stroke-width="1.05"/>
<path d="M851.5,401.5  V506.5  H979.5  Q985.5,517.5 991.5,506.5  H1070.5  Q1076.5,517.5 1082.5,506.5  H1117.5  V586.5" fill="none" stroke="#00ffff" stroke-width="1.05"/>
<path d="M1173.5,422.5  V526.5  H1128.5  V586.5" fill="none" stroke="#00ffff" stroke-width="1.05"/>
<path d="M1424.5,422.5  V537.5  H1147.5  V586.5" fill="none" stroke="#00ffff" stroke-width="1.05"/>
<path d="M1681.5,422.5  V542.5  H1527.5  V587.5" fill="none" stroke="#ff3399" stroke-width="1.05"/>
<path d="M310.5,747.5  V818.5" fill="none" stroke="#0000ff" stroke-width="3"/>
<path d="M715.5,747.5  V818.5" fill="none" stroke="#00ff00" stroke-width="3"/>
<path d="M1121.5,747.5  V818.5" fill="none" stroke="#00ffff" stroke-width="3"/>
<path d="M326.5,818.5  V788.5  H696.5  L708.5,800.5  Q715.5,808.5 722.5,800.5  L734.5,788.5  H1101.5  L1113.5,800.5  Q1120.5,808.5 1127.5,800.5  L1139.5,788.5  H1527.5  V747.5" fill="none" stroke="#ff7fc0" stroke-width="3"/>
<rect x="1896.00" y="0.00" width="1.20" height="1004.00" fill="#3a4656" />
<rect x="1897.20" y="0.00" width="5.80" height="1004.00" fill="url(#winb)" />
<path d="M1858,232 L1866,228 L1872,230 L1880,226 L1888,229 L1896,227 L1903,230 V249 L1895,251 L1884,251 L1882,258 L1877,251 L1866,251 L1858,247 L1862,240 Z" fill="#ffd4dc"/>
<text x="1881" y="243.5" font-size="9.5" font-weight="bold" text-anchor="middle" fill="#cc1020">点我加速</text>
<path d="M1872,276 L1880,272" stroke="#777" stroke-width="0.6"/>
<polygon points="1864,270 1872,266 1875,274 1867,278" fill="#e02020"/>
<ellipse cx="1892" cy="280" rx="15" ry="17" fill="#50c828"/>
<ellipse cx="1876" cy="287" rx="6" ry="3.5" fill="#50c828"/>
<circle cx="1879" cy="263" r="2" fill="#50c828"/><circle cx="1893" cy="258" r="2" fill="#50c828"/>
<path d="M1897,270 L1892,273 L1897,276 M1883,277 L1888,277 L1885,280" stroke="#333" stroke-width="0.9" fill="none"/>
<circle cx="1907" cy="304.5" r="23" fill="#f0f0f0" stroke="#ccc" stroke-width="1"/>
<circle cx="1907" cy="304.5" r="20" fill="#e02818"/>
<text x="1891" y="308" font-size="10" font-weight="bold" fill="#fff">93</text>
</svg></body></html>
